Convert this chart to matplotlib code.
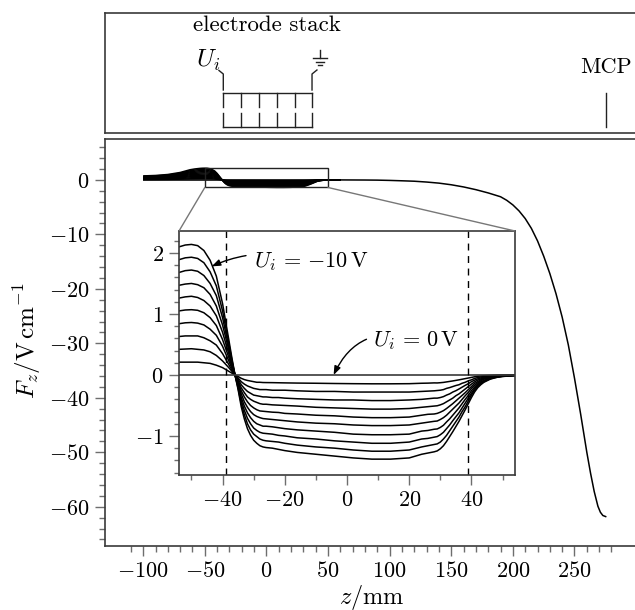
import matplotlib
matplotlib.use("Agg")
import matplotlib.pyplot as plt
from matplotlib.patches import Rectangle, ConnectionPatch

plt.rcParams['font.family'] = ['cmr10', 'DejaVu Sans']
plt.rcParams['mathtext.fontset'] = 'cm'
plt.rcParams['axes.formatter.use_mathtext'] = True

z = [-100,-90,-80,-70,-62,-58,-54,-52,-50,-48,-46,-44,-42,-40,-38,-37,-36,-35,-34,-33,-32,-31,-30,-29,-28,-27,-26,-24,-22,-20,-16,-10,-4,2,8,14,20,24,26,28,29,30,31,32,33,34,35,36,37,38,39,40,41,42,43,44,46,48,50,54,60]
F_U0 = [0]*61
F_U1 = [.07,.08,.10,.14,.19,.20,.21,.21,.21,.21,.20,.19,.16,.12,.06,.03,0,-.025,-.055,-.076,-.09,-.10,-.11,-.12,-.12,-.124,-.125,-.126,-.128,-.13,-.133,-.136,-.14,-.143,-.145,-.145,-.143,-.136,-.134,-.13,-.131,-.127,-.122,-.114,-.106,-.098,-.089,-.08,-.07,-.06,-.05,-.04,-.03,-.022,-.017,-.013,-.007,-.004,-.003,-.001,0]
F_U2 = [.14,.16,.20,.27,.37,.40,.42,.425,.43,.42,.41,.38,.32,.23,.12,.06,0,-.05,-.11,-.15,-.18,-.20,-.22,-.23,-.24,-.24,-.24,-.25,-.25,-.25,-.26,-.27,-.27,-.28,-.28,-.28,-.28,-.27,-.265,-.26,-.255,-.25,-.24,-.22,-.207,-.19,-.173,-.16,-.136,-.12,-.096,-.08,-.057,-.043,-.033,-.025,-.014,-.008,-.005,-.002,-.001]
F_U3 = [.22,.24,.29,.41,.56,.60,.63,.64,.64,.64,.61,.56,.49,.35,.17,.08,0,-.07,-.16,-.22,-.27,-.30,-.33,-.34,-.35,-.36,-.36,-.37,-.37,-.38,-.39,-.40,-.41,-.41,-.42,-.42,-.41,-.40,-.39,-.38,-.38,-.37,-.355,-.33,-.31,-.28,-.258,-.23,-.20,-.17,-.143,-.11,-.085,-.064,-.049,-.037,-.02,-.012,-.008,-.003,-.001]
F_U4 = [.29,.32,.39,.54,.74,.80,.84,.855,.86,.85,.82,.75,.65,.47,.23,.11,0,-.10,-.21,-.29,-.36,-.40,-.43,-.45,-.47,-.48,-.48,-.49,-.495,-.50,-.51,-.53,-.54,-.55,-.56,-.56,-.55,-.53,-.52,-.51,-.505,-.49,-.47,-.44,-.41,-.38,-.34,-.31,-.27,-.23,-.19,-.15,-.113,-.085,-.065,-.05,-.03,-.016,-.01,-.004,-.002]
F_U5 = [.36,.40,.49,.68,.93,1.00,1.05,1.065,1.07,1.06,1.02,.94,.81,.58,.29,.14,0,-.12,-.26,-.36,-.44,-.50,-.54,-.57,-.59,-.595,-.60,-.61,-.615,-.63,-.64,-.66,-.67,-.69,-.70,-.70,-.69,-.66,-.645,-.64,-.63,-.61,-.585,-.55,-.51,-.47,-.425,-.38,-.335,-.29,-.24,-.19,-.14,-.11,-.08,-.06,-.035,-.02,-.013,-.005,-.002]
F_U6 = [.43,.48,.59,.81,1.11,1.20,1.26,1.28,1.29,1.27,1.22,1.13,.97,.70,.35,.17,0,-.15,-.31,-.44,-.53,-.60,-.65,-.68,-.70,-.715,-.72,-.73,-.74,-.75,-.77,-.79,-.80,-.82,-.83,-.83,-.82,-.79,-.775,-.76,-.755,-.73,-.70,-.66,-.61,-.56,-.51,-.46,-.40,-.34,-.285,-.22,-.17,-.13,-.097,-.07,-.04,-.024,-.015,-.006,-.002]
F_U7 = [.50,.56,.69,.95,1.30,1.40,1.47,1.49,1.50,1.48,1.43,1.32,1.13,.82,.41,.20,0,-.17,-.37,-.51,-.62,-.70,-.76,-.80,-.82,-.84,-.84,-.85,-.865,-.88,-.90,-.92,-.94,-.97,-.98,-.98,-.97,-.92,-.91,-.89,-.885,-.86,-.825,-.77,-.72,-.66,-.60,-.54,-.47,-.40,-.335,-.26,-.20,-.15,-.114,-.09,-.05,-.03,-.018,-.007,-.003]
F_U8 = [.58,.64,.78,1.08,1.48,1.60,1.68,1.71,1.72,1.70,1.63,1.50,1.30,.94,.46,.22,0,-.19,-.42,-.58,-.71,-.80,-.87,-.91,-.94,-.955,-.96,-.97,-.99,-1.00,-1.03,-1.05,-1.08,-1.10,-1.12,-1.12,-1.10,-1.05,-1.04,-1.02,-1.01,-.98,-.94,-.88,-.82,-.75,-.685,-.62,-.54,-.46,-.38,-.30,-.227,-.17,-.13,-.10,-.06,-.03,-.02,-.008,-.003]
F_U9 = [.65,.72,.88,1.22,1.67,1.80,1.89,1.92,1.93,1.91,1.84,1.69,1.46,1.05,.52,.25,0,-.22,-.47,-.65,-.80,-.90,-.97,-1.01,-1.05,-1.07,-1.08,-1.09,-1.10,-1.12,-1.15,-1.18,-1.20,-1.23,-1.25,-1.25,-1.23,-1.18,-1.16,-1.14,-1.13,-1.10,-1.05,-.99,-.915,-.84,-.765,-.69,-.60,-.52,-.425,-.33,-.25,-.19,-.145,-.11,-.06,-.04,-.023,-.009,-.004]
F_U10 = [.72,.80,.98,1.35,1.85,2.00,2.10,2.13,2.14,2.12,2.04,1.88,1.62,1.17,.58,.28,0,-.24,-.52,-.72,-.88,-.99,-1.07,-1.12,-1.16,-1.18,-1.19,-1.20,-1.22,-1.24,-1.27,-1.30,-1.33,-1.36,-1.38,-1.38,-1.36,-1.30,-1.28,-1.26,-1.245,-1.21,-1.16,-1.09,-1.01,-.93,-.845,-.76,-.665,-.57,-.47,-.37,-.28,-.21,-.16,-.12,-.07,-.04,-.025,-.01,-.004]
curves = [F_U0, F_U1, F_U2, F_U3, F_U4, F_U5, F_U6, F_U7, F_U8, F_U9, F_U10]

tail_z = [60,80,90,100,110,120,130,140,145,150,155,160,165,170,175,180,185,190,195,200,205,210,215,220,225,230,235,240,245,250,255,260,263,266,269,271,273,275.3]
tail_F = [-.01,-.03,-.05,-.1,-.17,-.25,-.4,-.6,-.75,-.9,-1.1,-1.3,-1.55,-1.8,-2.1,-2.4,-2.75,-3.1,-3.75,-4.6,-5.7,-7.1,-8.9,-11.2,-14.0,-17.2,-20.9,-25.2,-30.3,-36.4,-43.0,-50.0,-53.8,-57.2,-59.9,-61.0,-61.6,-61.8]

main_xticks = [-100,-50,0,50,100,150,200,250]
main_xlabels = ['$-100$','$-50$','$0$','$50$','$100$','$150$','$200$','$250$']
main_yticks = [0,-10,-20,-30,-40,-50,-60]
main_ylabels = ['$0$','$-10$','$-20$','$-30$','$-40$','$-50$','$-60$']
main_xminor = list(range(-110, 290, 10))
main_yminor = list(range(-66, 8, 2))
inset_xticks = [-40,-20,0,20,40]
inset_xlabels = ['$-40$','$-20$','$0$','$20$','$40$']
inset_yticks = [2,1,0,-1]
inset_ylabels = ['$2$','$1$','$0$','$-1$']
inset_xminor = [-50,-30,-10,10,30,50]
inset_yminor = [-1.6,-1.4,-1.2,-.8,-.6,-.4,-.2,.2,.4,.6,.8,1.2,1.4,1.6,1.8,2.2]
dash_z = [-39, 39]
electrode_z = [-35,-20.6,-6,8.3,23,37]
mcp_z = 275.5

W, H = 635, 610
FRAME = '#3a3a3a'
GREY = '#6e6e6e'
FS = 16
def box(l, t, r, b):
    return [l/W, 1-b/H, (r-l)/W, (b-t)/H]

fig = plt.figure(figsize=(W/100, H/100), dpi=100)

# schematic panel (y in pixels from the top of the figure)
top = fig.add_axes(box(105, 13, 635, 133))
top.set_xlim(-131, 299.1)
top.set_ylim(133, 13)
top.set_xticks([]); top.set_yticks([])
for s in top.spines.values():
    s.set_color(FRAME); s.set_linewidth(1.2)
top.spines['right'].set_visible(False)
lw = 1.0
c = '#222222'
top.plot([electrode_z[0], electrode_z[-1]], [93.3, 93.3], color=c, lw=lw)
top.plot([electrode_z[0], electrode_z[-1]], [126.7, 126.7], color=c, lw=lw)
for e in electrode_z:
    top.plot([e, e], [93.3, 106.7], color=c, lw=lw)
    top.plot([e, e], [112.7, 126.7], color=c, lw=lw)
top.plot([-35, -35, -38.5], [90, 74, 70.5], color=c, lw=lw)
top.plot([37, 37, 41], [90, 74, 70], color=c, lw=lw)
top.plot([43.5, 43.5], [50, 57.5], color=c, lw=lw)
top.plot([37.5, 49.5], [57.5, 57.5], color=c, lw=lw)
top.plot([40, 47], [61.5, 61.5], color=c, lw=lw)
top.plot([41.5, 45.5], [65, 65], color=c, lw=lw)
top.plot([mcp_z, mcp_z], [93.3, 126.7], color=c, lw=lw)
top.text(0.3, 25, 'electrode stack', ha='center', va='center', fontsize=FS+0.5)
top.text(-47.5, 60, '$U_i$', ha='center', va='center', fontsize=18)
top.text(275.5, 67.5, 'MCP', ha='center', va='center', fontsize=FS)

# main panel
ax = fig.add_axes(box(105, 139, 635, 546))
ax.set_xlim(-131, 299.1)
ax.set_ylim(-67.2, 7.5)
for s in ax.spines.values():
    s.set_color(FRAME); s.set_linewidth(1.2)
ax.spines['right'].set_visible(False)
for F in curves:
    ax.plot(z, F, color='black', lw=1.15, solid_joinstyle='round', solid_capstyle='butt')
ax.plot(tail_z, tail_F, color='black', lw=1.1)
ax.set_xticks(main_xticks); ax.set_xticklabels(main_xlabels, fontsize=FS)
ax.set_yticks(main_yticks); ax.set_yticklabels(main_ylabels, fontsize=FS)
ax.set_xticks(main_xminor, minor=True)
ax.set_yticks(main_yminor, minor=True)
ax.tick_params(which='major', length=7, width=1.0, color=GREY, pad=4)
ax.tick_params(which='minor', length=4.5, width=1.0, color=GREY)
ax.set_xlabel(r'$z/\mathrm{mm}$', fontsize=17.5)
ax.xaxis.set_label_coords((372-105)/530, -(597-546)/407, transform=ax.transAxes)
ax.xaxis.label.set_va('center')
ax.set_ylabel(r'$F_z/\mathrm{V\,cm}^{-1}$', fontsize=18)
ax.yaxis.set_label_coords((27-105)/530, (546-341)/407, transform=ax.transAxes)
ax.yaxis.label.set_va('center')
ax.add_patch(Rectangle((-50, -1.4), 100, 3.6, fill=False, ec='#222222', lw=1.0, zorder=4))

# inset
ins = fig.add_axes(box(179, 231, 515, 475))
ins.set_xlim(-54, 54)
ins.set_ylim(-1.64, 2.36)
for s in ins.spines.values():
    s.set_color(FRAME); s.set_linewidth(1.2)
for F in curves[1:]:
    ins.plot(z, F, color='black', lw=1.1)
ins.plot(z, F_U0, color=FRAME, lw=1.2)
for d in dash_z:
    ins.axvline(d, color='black', lw=1.0, dashes=(5, 4))
ins.set_xticks(inset_xticks); ins.set_xticklabels(inset_xlabels, fontsize=FS)
ins.set_yticks(inset_yticks); ins.set_yticklabels(inset_ylabels, fontsize=FS)
ins.set_xticks(inset_xminor, minor=True)
ins.set_yticks(inset_yminor, minor=True)
ins.tick_params(which='major', length=7, width=1.0, color=GREY, pad=4)
ins.tick_params(which='minor', length=3.5, width=1.0, color=GREY)

ins.annotate('$U_i\\,=\\,{-}10\\,\\mathrm{V}$', xy=(-43.5, 1.78), xytext=(-29.8, 1.86),
             fontsize=16, ha='left', va='center',
             arrowprops=dict(arrowstyle='-|>,head_width=0.12,head_length=0.32', color='black', lw=1.0,
                             connectionstyle='arc3,rad=0.2', shrinkA=4, shrinkB=0))
ins.annotate('$U_i\\,=\\,0\\,\\mathrm{V}$', xy=(-4.3, 0.0), xytext=(8.4, 0.57),
             fontsize=16, ha='left', va='center',
             arrowprops=dict(arrowstyle='-|>,head_width=0.12,head_length=0.32', color='black', lw=1.0,
                             connectionstyle='arc3,rad=0.45', shrinkA=3, shrinkB=0))

for a, b in [((-50, -1.4), (0, 1)), ((50, -1.4), (1, 1))]:
    fig.add_artist(ConnectionPatch(a, b, coordsA='data', coordsB='axes fraction', axesA=ax, axesB=ins,
                                   color='#777777', lw=1.0))

fig.savefig('out.png', dpi=100)
